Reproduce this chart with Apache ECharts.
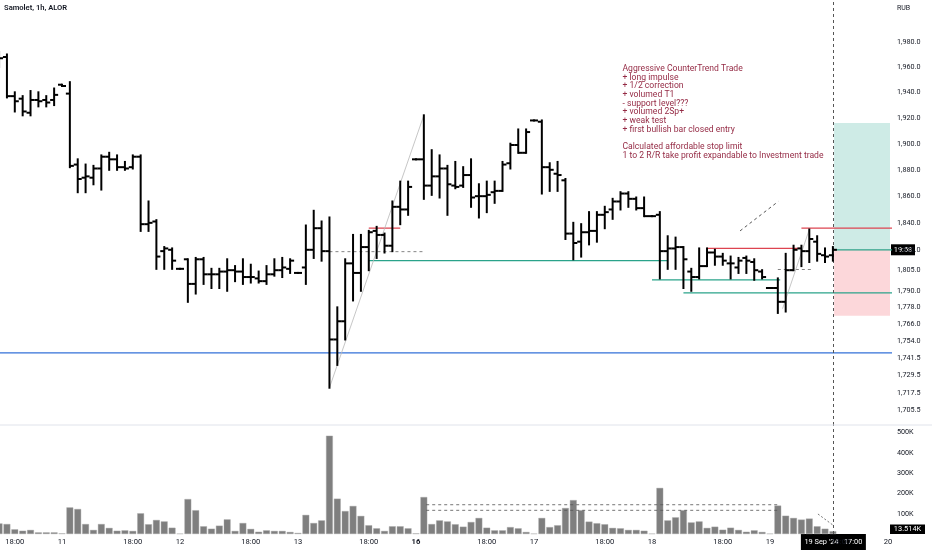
<!DOCTYPE html>
<html>
<head>
<meta charset="utf-8">
<script src="https://cdn.jsdelivr.net/npm/echarts@6/dist/echarts.min.js"></script>
<style>
html, body { margin: 0; padding: 0; background: #fff; }
#chart { width: 932px; height: 550px; }
</style>
</head>
<body>
<div id="chart"></div>
<script>
// session hours of the exchange, days on screen
const days = ['10', '11', '12', '13', '16', '17', '18', '19', '20'];
const sessionHours = ['09:00', '10:00', '11:00', '12:00', '13:00', '14:00', '15:00', '16:00',
    '17:00', '18:00', '19:00', '20:00', '21:00', '22:00', '23:00'];
const boldDays = ['16'];
const firstSlot = '10 16:00';
const lastSlot = '20 09:00';

// hourly bars: open, high, low, close
const ohlc = [
    [1963, 1972, 1960, 1967], [1968, 1970, 1936, 1937], [1937, 1940, 1925, 1933], [1935, 1937, 1922, 1925],
    [1924, 1941, 1922, 1934], [1934, 1940, 1929, 1933], [1934, 1937, 1929, 1932], [1934, 1943, 1930, 1938],
    [1946, 1946, 1945, 1945], [1939, 1948, 1882, 1883], [1884, 1888, 1863, 1873], [1874, 1884, 1863, 1875],
    [1874, 1883, 1869, 1881], [1881, 1891, 1865, 1890], [1890, 1893, 1880, 1888], [1888, 1891, 1880, 1882],
    [1882, 1886, 1880, 1881], [1882, 1891, 1881, 1890], [1890, 1891, 1834, 1839], [1839, 1856, 1834, 1840],
    [1841, 1842, 1806, 1815], [1819, 1822, 1806, 1821], [1820, 1821, 1806, 1812], [1806, 1806, 1806, 1806],
    [1813, 1813, 1782, 1795], [1795, 1814, 1788, 1813], [1813, 1814, 1795, 1802], [1802, 1806, 1792, 1802],
    [1802, 1806, 1792, 1804], [1804, 1813, 1790, 1805], [1805, 1808, 1797, 1804], [1804, 1813, 1795, 1800],
    [1800, 1809, 1796, 1800], [1799, 1804, 1796, 1797], [1797, 1808, 1795, 1802], [1802, 1813, 1801, 1805],
    [1805, 1814, 1800, 1807], [1806, 1813, 1803, 1812], [1803, 1803, 1803, 1803], [1807, 1838, 1795, 1820],
    [1820, 1849, 1814, 1836], [1836, 1841, 1812, 1819], [1819, 1844, 1721, 1755], [1755, 1778, 1737, 1768],
    [1768, 1813, 1755, 1810], [1810, 1831, 1783, 1803], [1803, 1831, 1790, 1822], [1822, 1834, 1805, 1833],
    [1834, 1837, 1814, 1831], [1831, 1832, 1818, 1823], [1823, 1856, 1819, 1852], [1852, 1871, 1839, 1850],
    [1850, 1871, 1846, 1867], [1888, 1888, 1888, 1888], [1888, 1922, 1858, 1868], [1868, 1895, 1861, 1875],
    [1875, 1891, 1859, 1881], [1881, 1883, 1846, 1869], [1868, 1886, 1866, 1867], [1868, 1882, 1867, 1876],
    [1876, 1888, 1852, 1859], [1860, 1869, 1844, 1860], [1860, 1871, 1848, 1861], [1863, 1871, 1855, 1864],
    [1864, 1886, 1864, 1884], [1885, 1900, 1881, 1899], [1899, 1911, 1893, 1893], [1893, 1911, 1893, 1909],
    [1918, 1918, 1918, 1918], [1917, 1918, 1862, 1882], [1882, 1885, 1864, 1880], [1877, 1886, 1864, 1876],
    [1872, 1873, 1828, 1832], [1832, 1840, 1813, 1825], [1826, 1839, 1815, 1833], [1833, 1848, 1824, 1834],
    [1834, 1848, 1826, 1846], [1846, 1852, 1836, 1848], [1850, 1858, 1843, 1856], [1856, 1863, 1850, 1862],
    [1862, 1863, 1852, 1858], [1858, 1859, 1850, 1851], [1851, 1859, 1845, 1845], [1845, 1845, 1845, 1845],
    [1846, 1848, 1799, 1819], [1819, 1830, 1806, 1821], [1821, 1829, 1806, 1822], [1822, 1822, 1792, 1813],
    [1804, 1806, 1790, 1800], [1800, 1821, 1799, 1808], [1808, 1821, 1808, 1818], [1818, 1820, 1809, 1815],
    [1815, 1817, 1809, 1812], [1810, 1815, 1799, 1810], [1807, 1814, 1803, 1812], [1814, 1815, 1803, 1812],
    [1811, 1813, 1798, 1805], [1804, 1805, 1799, 1800], [1792, 1792, 1792, 1792], [1792, 1799, 1774, 1782],
    [1782, 1817, 1775, 1805], [1805, 1823, 1805, 1820], [1821, 1823, 1808, 1819], [1819, 1835, 1811, 1828],
    [1826, 1830, 1812, 1817], [1816, 1821, 1811, 1815], [1816, 1822, 1812, 1820]
];

// volume per bar, thousands
const volumeK = [
    52, 49, 23, 16, 20, 8, 8, 8, 3, 131, 123, 49, 20, 49, 30, 16, 18, 15, 102, 48,
    69, 62, 31, 2, 172, 117, 38, 26, 41, 72, 15, 54, 25, 11, 18, 15, 15, 10, 5, 94,
    54, 67, 484, 174, 113, 138, 89, 43, 28, 15, 38, 38, 28, 3, 182, 49, 67, 62, 48, 36,
    59, 79, 31, 18, 18, 34, 28, 10, 2, 79, 34, 43, 128, 167, 117, 61, 53, 48, 30, 28,
    20, 20, 16, 2, 227, 67, 82, 117, 57, 62, 30, 36, 21, 31, 20, 11, 18, 10, 2, 140,
    90, 79, 71, 76, 38, 26, 13.514
];

const priceTicks = [2000, 1980, 1960, 1940, 1920, 1900, 1880, 1860, 1840, 1820, 1805, 1790,
    1778, 1766, 1754, 1741.5, 1729.5, 1717.5, 1705.5];
const volumeTicks = [100000, 200000, 300000, 400000, 500000];

// drawings: [from bar, to bar, price]
const tealLevels = [[47, 85, 1812], [83, 99.3, 1798], [87, 114, 1788.5]];
const redLevels = [[47, 51, 1836], [90, 102, 1821], [102, 114, 1836]];
const blueLevels = [[-2, 114, 1745.5]];
const dashLevels = [[42, 54, 1818.6], [99, 103.3, 1805.5]];
const trendLines = [[[42, 1721], [54, 1922]], [[99.6, 1777], [103, 1835]]];
const arrowLine = [[94.2, 1834], [99.05, 1856]];
const volumeLevels = [[54.3, 99.3, 144000], [54.3, 99.3, 117000]];
const volumeArrow = [[104.1, 98500], [106, 44000]];

// long position tool
const entryBar = 106.15;
const entryPrice = 1820;
const targetPrice = 1916;
const stopPrice = 1772;
const crossBar = 106;

const noteLines = [
    'Aggressive CounterTrend Trade',
    '+ long impulse',
    '+ 1/2 correction',
    '+ volumed T1',
    '- support level???',
    '+ volumed 2Sp+',
    '+ weak test',
    '+ first bullish bar closed entry',
    '',
    'Calculated affordable stop limit',
    '1 to 2 R/R take profit expandable to Investment trade'
];

const times = [];
days.forEach(d => sessionHours.forEach(h => times.push(d + ' ' + h)));
const slots = times.slice(times.indexOf(firstSlot), times.indexOf(lastSlot) + 1);
const timeTickIdx = [];
slots.forEach((t, i) => {
    const h = t.split(' ')[1];
    if (h === '09:00' || h === '18:00') timeTickIdx.push(i);
});

const XMIN = 0.119;
const XMAX = 113.26;
const ln = Math.log;
const FONT = 'Roboto';
const TXT = '#131722';

function fmtPrice(v) {
    return Math.exp(v).toFixed(1).replace(/\B(?=(\d{3})+(?!\d))/g, ',');
}

function renderBar(params, api) {
    const i = api.value(0);
    const o = api.coord([i, api.value(1)]);
    const h = api.coord([i, api.value(2)]);
    const l = api.coord([i, api.value(3)]);
    const c = api.coord([i, api.value(4)]);
    const style = { stroke: '#000', lineWidth: 2 };
    return {
        type: 'group',
        children: [
            { type: 'line', shape: { x1: h[0], y1: h[1] - 1, x2: l[0], y2: l[1] + 1 }, style },
            { type: 'line', shape: { x1: o[0] - 4, y1: o[1], x2: o[0], y2: o[1] }, style },
            { type: 'line', shape: { x1: c[0], y1: c[1], x2: c[0] + 4, y2: c[1] }, style }
        ]
    };
}

function priceLine(pts, color, width, type) {
    return {
        type: 'line', xAxisIndex: 0, yAxisIndex: 0,
        data: pts.map(p => [p[0], ln(p[1])]),
        symbol: 'none', silent: true, z: 3,
        lineStyle: { color, width, type }
    };
}

function levelSeries(levels, color, width, type) {
    return levels.map(lv => priceLine([[lv[0], lv[2]], [lv[1], lv[2]]], color, width, type));
}

const crossMark = {
    symbol: 'none', silent: true, label: { show: false },
    lineStyle: { color: '#555', width: 1, type: [3, 3] },
    data: [{ xAxis: crossBar }]
};

const entrySeries = priceLine([[entryBar, entryPrice], [114, entryPrice]], '#2aa38a', 1.3, 'solid');
entrySeries.z = 4;
entrySeries.markArea = {
    silent: true,
    data: [
        [{ coord: [entryBar, ln(entryPrice)], itemStyle: { color: 'rgba(8,153,129,0.2)' } },
         { coord: [XMAX, ln(targetPrice)] }],
        [{ coord: [entryBar, ln(stopPrice)], itemStyle: { color: 'rgba(242,54,69,0.2)' } },
         { coord: [XMAX, ln(entryPrice)] }]
    ]
};

const blueSeries = levelSeries(blueLevels, '#3370d8', 1.2, 'solid');
blueSeries[0].markLine = {
    symbol: ['none', 'arrow'], symbolSize: [0, 6], silent: true, label: { show: false },
    lineStyle: { color: '#555', width: 1, type: [3, 3] },
    data: [
        [{ coord: [arrowLine[0][0], ln(arrowLine[0][1])] }, { coord: [arrowLine[1][0], ln(arrowLine[1][1])] }]
    ]
};
const crossSeries = priceLine([[crossBar, 1700], [crossBar, 1700]], 'rgba(0,0,0,0)', 0, 'solid');
crossSeries.markLine = crossMark;

const series = [
    {
        type: 'custom', name: 'Samolet', xAxisIndex: 0, yAxisIndex: 0,
        data: ohlc.map((d, i) => [i, ln(d[0]), ln(d[1]), ln(d[2]), ln(d[3])]),
        encode: { x: 0, y: [1, 2, 3, 4] },
        renderItem: renderBar, clip: true, z: 5, silent: true
    },
    {
        type: 'bar', name: 'Volume', xAxisIndex: 1, yAxisIndex: 1,
        data: volumeK.map((v, i) => [i, v * 1000]),
        barWidth: 6.8, silent: true,
        itemStyle: { color: '#7f7f7f', borderColor: '#a9a9a9', borderWidth: 0.4 },
        markLine: crossMark
    },
    ...levelSeries(tealLevels, '#2aa38a', 1.3, 'solid'),
    ...levelSeries(redLevels, '#dd4450', 1.2, 'solid'),
    ...blueSeries,
    ...levelSeries(dashLevels, '#777', 0.9, [3, 3]),
    ...trendLines.map(t => priceLine(t, '#b8b8b8', 0.8, 'solid')),
    entrySeries,
    crossSeries
];
volumeLevels.forEach(lv => series.push({
    type: 'line', xAxisIndex: 1, yAxisIndex: 1, symbol: 'none', silent: true,
    data: [[lv[0], lv[2]], [lv[1], lv[2]]],
    lineStyle: { color: '#555', width: 0.8, type: [3, 3] }
}));
series.push({
    type: 'line', xAxisIndex: 1, yAxisIndex: 1, symbol: 'none', silent: true,
    data: volumeArrow,
    lineStyle: { color: '#555', width: 0.8, type: [2, 2] }
});

const chart = echarts.init(document.getElementById('chart'), null, { renderer: 'canvas' });

chart.setOption({
    animation: false,
    backgroundColor: '#fff',
    textStyle: { fontFamily: FONT },
    grid: [
        { left: 0, right: 42, top: 0, height: 425, outerBoundsMode: 'none' },
        { left: 0, right: 42, top: 425, bottom: 16, outerBoundsMode: 'none' }
    ],
    xAxis: [
        { type: 'value', gridIndex: 0, min: XMIN, max: XMAX, show: false },
        {
            type: 'value', gridIndex: 1, min: XMIN, max: XMAX,
            axisLine: { show: false }, axisTick: { show: false }, splitLine: { show: false },
            axisLabel: {
                customValues: timeTickIdx, margin: 4.5, fontSize: 7.6, color: TXT, fontFamily: FONT,
                formatter: v => {
                    const parts = slots[Math.round(v)].split(' ');
                    if (parts[1] === '09:00') {
                        return boldDays.includes(parts[0]) ? '{b|' + parts[0] + '}' : parts[0];
                    }
                    return parts[1];
                },
                rich: { b: { fontWeight: 'bold', fontSize: 7.6, color: TXT, fontFamily: FONT } }
            }
        }
    ],
    yAxis: [
        {
            type: 'value', gridIndex: 0, position: 'right',
            min: 7.43554, max: 7.607884,
            axisLine: { show: false }, axisTick: { show: false }, splitLine: { show: false },
            axisLabel: {
                customValues: priceTicks.map(p => ln(p)), formatter: fmtPrice,
                margin: 7, fontSize: 7.2, color: TXT, fontFamily: FONT
            }
        },
        {
            type: 'value', gridIndex: 1, position: 'right', min: 0, max: 537000,
            axisLine: { show: false }, axisTick: { show: false }, splitLine: { show: false },
            axisLabel: {
                customValues: volumeTicks, formatter: v => (v / 1000) + 'K',
                margin: 7, fontSize: 7.2, color: TXT, fontFamily: FONT
            }
        }
    ],
    series
});

const yEntry = chart.convertToPixel({ yAxisIndex: 0 }, ln(entryPrice));
const xCross = chart.convertToPixel({ xAxisIndex: 1 }, crossBar);

function tag(x, y, w, h, text) {
    return {
        type: 'group', x, y, z: 100,
        children: [
            { type: 'rect', shape: { x: 0, y: 0, width: w, height: h }, style: { fill: '#000' } },
            {
                type: 'text', x: w / 2, y: h / 2,
                style: { text, fill: '#fff', fontSize: 7.4, fontFamily: FONT, align: 'center', verticalAlign: 'middle' }
            }
        ]
    };
}

chart.setOption({
    graphic: [
        {
            type: 'text', x: 4, y: 8.3, z: 100,
            style: { text: 'Samolet, 1h, ALOR', fontSize: 7.6, fontWeight: 600, fill: TXT, fontFamily: FONT, verticalAlign: 'middle' }
        },
        {
            type: 'text', x: 622.5, y: 64.5, z: 100,
            style: { text: noteLines.join('\n'), fontSize: 8.6, lineHeight: 8.67, fill: '#952b45', fontFamily: FONT, verticalAlign: 'top' }
        },
        { type: 'line', z: 90, shape: { x1: 0, y1: 425, x2: 932, y2: 425 }, style: { stroke: '#e0e3eb', lineWidth: 1 } },
        { type: 'rect', z: 95, shape: { x: 891, y: 0, width: 41, height: 20.5 }, style: { fill: '#fff' } },
        {
            type: 'text', x: 897, y: 8.5, z: 100,
            style: { text: 'RUB', fontSize: 7, fill: TXT, fontFamily: FONT, verticalAlign: 'middle' }
        },
        tag(891, yEntry - 5.5, 24, 11, '19:58'),
        tag(890, 524.5, 35, 9.5, '13.514K'),
        tag(xCross - 32, 534, 65, 16, "19 Sep '24   17:00")
    ]
});
</script>
</body>
</html>
